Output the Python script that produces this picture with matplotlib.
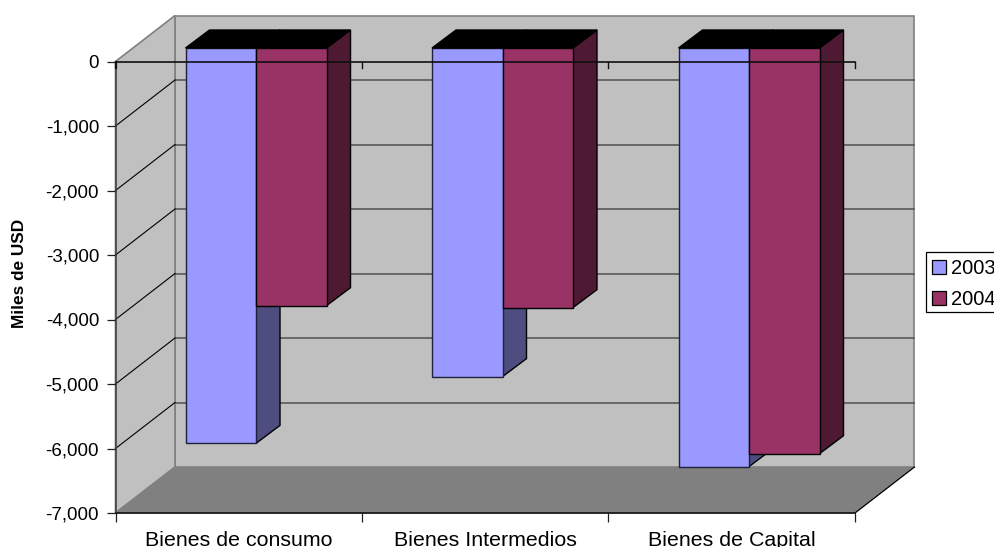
import matplotlib
matplotlib.use("Agg")
import matplotlib.pyplot as plt
from matplotlib.patches import Polygon, Rectangle

categories = ["Bienes de consumo", "Bienes Intermedios", "Bienes de Capital"]
series_names = ["2003", "2004"]
values_2003 = [-6130, -5095, -6490]
values_2004 = [-3995, -4025, -6290]
yticks = [0, -1000, -2000, -3000, -4000, -5000, -6000, -7000]

W, H = 994, 547
L, R, T, B = 115.5, 855.0, 61.5, 513.0
plt.rcParams["font.family"] = ["Liberation Sans", "DejaVu Sans"]
FS = 13.5
fig = plt.figure(figsize=(W / 100, H / 100), dpi=100, facecolor="white")
ax = fig.add_axes([L / W, 1 - B / H, (R - L) / W, (B - T) / H], facecolor="none")
ax.set_xlim(0, 3)
ax.set_ylim(-7000, 0)

pxx = 3 / (R - L)
pxy = 7000 / (B - T)
DX, DY = 59.5 * pxx, 46 * pxy          # wall depth
bdx, bdy = 24 * pxx, 18 * pxy          # bar depth
ox, oy = 18 * pxx, 13.5 * pxy          # bar depth start
gap, bw = 0.211, 0.286


def poly(pts, fc, ec="none", lw=0.0, z=1):
    ax.add_patch(Polygon(pts, closed=True, facecolor=fc, edgecolor=ec, linewidth=lw,
                         zorder=z, clip_on=False, joinstyle="miter"))


# walls and floor
poly([(DX, DY), (3 + DX, DY), (3 + DX, -7000 + DY), (DX, -7000 + DY)], "#C0C0C0", "#808080", 1.2, 1)
poly([(0, 0), (DX, DY), (DX, -7000 + DY), (0, -7000)], "#C0C0C0", "#808080", 1.2, 1)
poly([(0, -7000), (3, -7000), (3 + DX, -7000 + DY), (DX, -7000 + DY)], "#808080", "none", 0, 1.5)
ax.plot([3, 3 + DX], [-7000, -7000 + DY], color="black", lw=0.9, zorder=1.6, clip_on=False)
ax.plot([0, DX], [-7000, -7000 + DY], color="#808080", lw=1.0, zorder=1.6, clip_on=False)

# gridlines on back wall and side wall
for v in yticks[1:-1]:
    ax.plot([DX, 3 + DX], [v + DY, v + DY], color="#505050", lw=1.1, zorder=1.7, clip_on=False)
    ax.plot([0, DX], [v, v + DY], color="black", lw=0.8, zorder=1.7, clip_on=False)

# bars
face = ["#9999FF", "#993366"]
side = ["#4D4D80", "#4D1933"]
z = 2.0
for i in range(len(categories)):
    x0 = i + gap + ox
    for j, vals in enumerate([values_2003, values_2004]):
        v = vals[i]
        xa = x0 + j * bw
        xb = xa + bw
        top = oy
        bot = v + oy
        poly([(xb, top), (xb + bdx, top + bdy), (xb + bdx, bot + bdy), (xb, bot)], side[j], "black", 1.0, z)
        z += 0.01
        poly([(xa, top), (xb, top), (xb, bot), (xa, bot)], face[j], "#20203a" if j == 0 else "black", 1.0, z)
        z += 0.01
        poly([(xa, top), (xb, top), (xb + bdx, top + bdy), (xa + bdx, top + bdy)], "black", "black", 1.0, z)
        z += 0.01

# axes
for s in ["top", "right"]:
    ax.spines[s].set_visible(False)
ax.spines["left"].set_color("#404040")
ax.spines["left"].set_linewidth(1.1)
ax.spines["bottom"].set_color("#1a1a1a")
ax.spines["bottom"].set_linewidth(1.3)
ax.spines["left"].set_zorder(5)
ax.spines["bottom"].set_zorder(5)
ax.set_yticks(yticks)
ax.set_yticklabels([f"{v:,}" for v in yticks], fontsize=FS, color="black")
ax.set_xticks([0, 1, 2, 3])
ax.set_xticklabels([])
ax.tick_params(axis="y", length=6.5, width=0.9, color="#202020", pad=5.3)
ax.tick_params(axis="x", length=6.5, width=0.9, color="#202020")
for i, c in enumerate(categories):
    ax.annotate(c, xy=(i + 0.5, -7000), xytext=(0, -(545.5 - B) * 0.72), textcoords="offset points",
                ha="center", va="baseline", fontsize=15.4, annotation_clip=False)

# zero line with its ticks on top of the bars
ax.plot([0, 3], [0, 0], color="#101010", lw=1.2, zorder=10, clip_on=False)
for t in [0, 1, 2, 3]:
    ax.plot([t, t], [0, -6.5 * pxy], color="#101010", lw=1.0 if t else 1.6, zorder=10, clip_on=False)

fig.text(20 / W, 1 - 273.5 / H, "Miles de USD", rotation=90, ha="center", va="center",
         fontsize=12.4, fontweight="bold")

# legend box, cut by the right edge of the picture as in the reference
fig.add_artist(Rectangle((925.5 / W, 1 - 312 / H), 80 / W, 59.5 / H, transform=fig.transFigure,
                         facecolor="white", edgecolor="black", linewidth=0.9))
handles = [Rectangle((0, 0), 1, 1, facecolor=face[k], edgecolor="black", linewidth=0.9) for k in range(2)]
leg = fig.legend(handles, series_names, loc="upper left", bbox_to_anchor=(932 / W, 1 - 259 / H),
                 bbox_transform=fig.transFigure, fontsize=14.5, frameon=False,
                 borderaxespad=0, borderpad=0,
                 handlelength=0.7, handleheight=0.7, handletextpad=0.22, labelspacing=0.62)

fig.savefig("out.png", dpi=100)
